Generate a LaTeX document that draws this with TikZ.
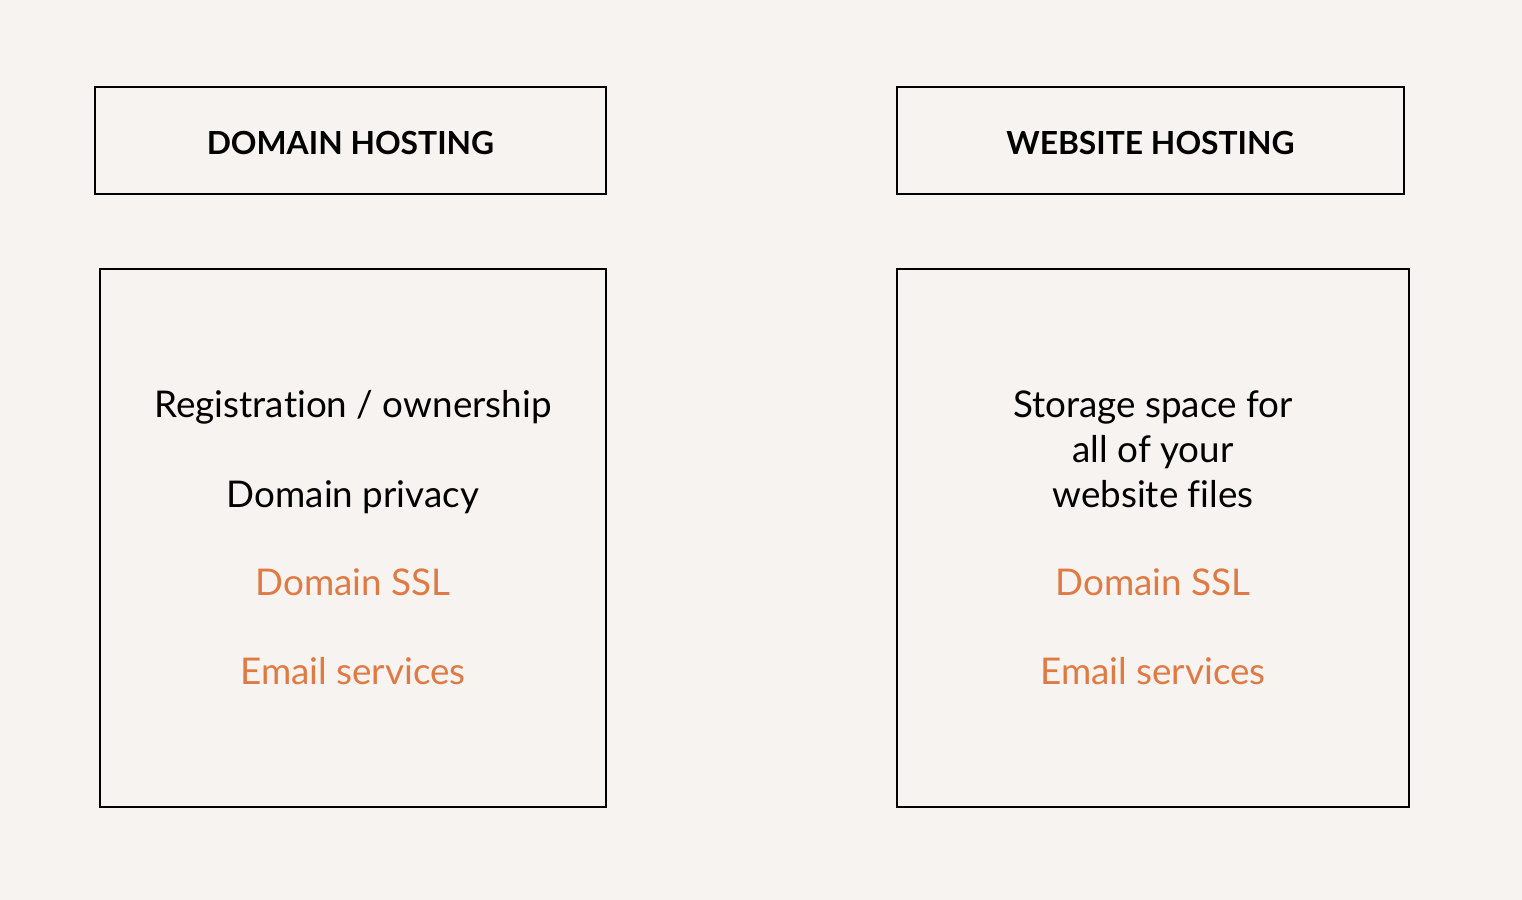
\documentclass[tikz,border=0pt]{standalone}
\usepackage{fontspec}
\setmainfont{Lato}[Ligatures=NoCommon]
\usetikzlibrary{calc}
\definecolor{paper}{HTML}{F6F3F0}
\definecolor{accent}{HTML}{E07A44}
\tikzset{
    frame/.style={draw=black, line width=1pt},
    heading/.style={font=\fontsize{15.9}{19}\selectfont\bfseries, text=black, yshift=-1.2pt},
    item/.style={font=\fontsize{18.4}{22}\selectfont, align=center, inner sep=0pt, anchor=base}
}
\begin{document}
\begin{tikzpicture}[x=0.5pt, y=-0.5pt]
    % Page
    \fill[paper] (0,0) rectangle (1522,900);
    \useasboundingbox (0,0) rectangle (1522,900);

    % Corners of the four boxes
    \coordinate (dtopA) at (95,87);
    \coordinate (dtopB) at (606,194);
    \coordinate (wtopA) at (897,87);
    \coordinate (wtopB) at (1404,194);
    \coordinate (dlistA) at (100,269);
    \coordinate (dlistB) at (606,807);
    \coordinate (wlistA) at (897,269);
    \coordinate (wlistB) at (1409,807);

    % Boxes
    \draw[frame] (dtopA) rectangle (dtopB);
    \draw[frame] (wtopA) rectangle (wtopB);
    \draw[frame] (dlistA) rectangle (dlistB);
    \draw[frame] (wlistA) rectangle (wlistB);

    % Headings
    \node[heading] (domhead) at ($(dtopA)!0.5!(dtopB)$) {DOMAIN HOSTING};
    \node[heading] (webhead) at ($(wtopA)!0.5!(wtopB)$) {WEBSITE HOSTING};

    % Domain hosting list
    \foreach \n/\y/\c/\t in {dreg/417/black/{Registration / ownership}, dpriv/507/black/Domain privacy,
                             dssl/595/accent/Domain SSL, dmail/684/accent/Email services}
        \node[item, text=\c] (\n) at (353,\y) {\t};

    % Website hosting list
    \foreach \n/\y/\c/\t in {wsto/417/black/Storage space for, wall/462/black/all of your,
                             wfile/507/black/website files,
                             wssl/595/accent/Domain SSL, wmail/684/accent/Email services}
        \node[item, text=\c] (\n) at (1153,\y) {\t};
\end{tikzpicture}
\end{document}
